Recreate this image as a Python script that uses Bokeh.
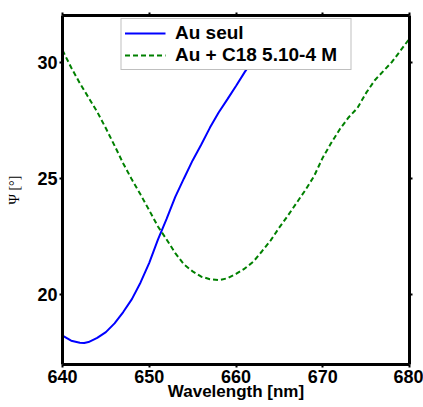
from bokeh.plotting import figure
from bokeh.models import Range1d, LinearAxis, FixedTicker, Legend, LegendItem
from bokeh.embed import file_html
from bokeh.resources import INLINE

# Data
wl_au = [640, 641, 642, 642.5, 643, 644, 645, 646, 647, 648, 649, 650, 651, 652,
         653, 654, 655, 656, 657, 658, 659, 660, 661, 662, 663]
psi_au = [18.2, 17.98, 17.89, 17.88, 17.92, 18.1, 18.35, 18.73, 19.22, 19.78, 20.5,
          21.35, 22.35, 23.25, 24.2, 25.0, 25.78, 26.47, 27.2, 27.85, 28.42, 29.0,
          29.6, 30.15, 30.7]

wl_c18 = list(range(640, 681))
psi_c18 = [30.55, 29.8, 29.12, 28.5, 27.88, 27.17, 26.42, 25.65, 24.95, 24.3,
           23.62, 22.92, 22.36, 21.77, 21.28, 20.98, 20.75, 20.64, 20.6, 20.68,
           20.87, 21.1, 21.4, 21.85, 22.32, 22.88, 23.4, 23.95, 24.5, 25.1,
           25.9, 26.55, 27.15, 27.65, 28.05, 28.7, 29.25, 29.65, 30.05, 30.55, 31.05]

x_ticks = [640, 650, 660, 670, 680]
y_ticks = [20, 25, 30]
label_au = "Au seul"
label_c18 = "Au + C18 5.10-4 M"
x_label = "Wavelength [nm]"
y_label = "\u03a8 [\u00b0]"

FONT = "Liberation Sans"

p = figure(frame_width=347, frame_height=349, output_backend="svg",
           toolbar_location=None,
           x_range=Range1d(640, 680), y_range=Range1d(16.95, 32.05),
           min_border_left=62, min_border_right=14, min_border_top=15,
           min_border_bottom=43)
p.grid.visible = False
p.outline_line_color = None
p.background_fill_color = "white"

r_au = p.line(wl_au, psi_au, line_color="#0000FF", line_width=2)
r_c18 = p.line(wl_c18, psi_c18, line_color="#008000", line_width=2,
               line_dash="5 3")

def style_axis(ax, show_labels):
    ax.axis_line_width = 3
    ax.axis_line_color = "black"
    ax.major_tick_in = 0
    ax.major_tick_out = 3
    ax.major_tick_line_width = 2
    ax.minor_tick_line_color = None
    ax.major_label_text_font = FONT
    ax.major_label_text_font_style = "bold"
    if show_labels:
        ax.major_label_text_color = "black"
        ax.major_label_text_font_size = "18px"
        ax.major_label_standoff = 5
    else:
        ax.major_label_text_color = None
        ax.major_label_text_font_size = "1px"
        ax.major_label_standoff = 0

xa = p.xaxis[0]
ya = p.yaxis[0]
xa.ticker = FixedTicker(ticks=x_ticks)
ya.ticker = FixedTicker(ticks=y_ticks)
style_axis(xa, True)
style_axis(ya, True)
xa.major_label_standoff = 2
xa.axis_label = x_label
xa.axis_label_text_font = FONT
xa.axis_label_text_font_style = "bold"
xa.axis_label_text_font_size = "17px"
xa.axis_label_text_color = "black"
xa.axis_label_standoff = -4
ya.major_label_standoff = 2
ya.axis_label = y_label
ya.axis_label_text_font = "Liberation Serif"
ya.axis_label_text_font_style = "normal"
ya.axis_label_text_font_size = "14px"
ya.axis_label_text_color = "black"
ya.axis_label_standoff = 12

top = LinearAxis(ticker=FixedTicker(ticks=x_ticks))
style_axis(top, False)
p.add_layout(top, "above")
right = LinearAxis(ticker=FixedTicker(ticks=y_ticks))
style_axis(right, False)
p.add_layout(right, "right")

legend = Legend(items=[LegendItem(label=label_au, renderers=[r_au]),
                       LegendItem(label=label_c18, renderers=[r_c18])],
                location="top_center")
legend.margin = 3
legend.padding = 3
legend.spacing = -4
legend.glyph_width = 41
legend.glyph_height = 18
legend.label_height = 18
legend.label_width = 172
legend.label_standoff = 10
legend.label_text_font = FONT
legend.label_text_font_style = "bold"
legend.label_text_font_size = "19px"
legend.label_text_color = "black"
legend.border_line_color = "#808080"
legend.border_line_width = 1
legend.background_fill_alpha = 1
p.add_layout(legend, "center")

open("out.html", "w").write(file_html(p, INLINE))
